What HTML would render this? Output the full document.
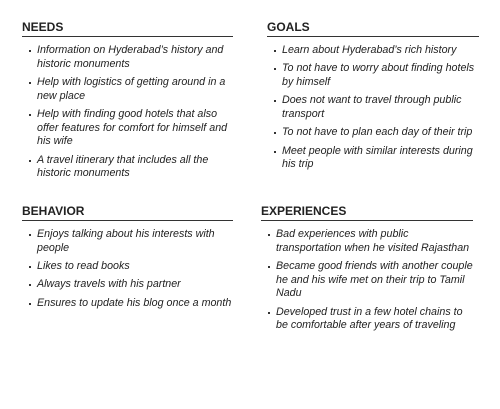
<!DOCTYPE html>
<html><head><meta charset="utf-8"><style>
body{margin:0;width:500px;height:409px;background:#fff;position:relative;overflow:hidden;font-family:"Liberation Sans",sans-serif;color:#222}
.b{position:absolute;width:212px}
.h{font-weight:bold;font-size:12px;height:15px;line-height:15px;border-bottom:1.5px solid #333;padding-bottom:1px}
ul{list-style:none;margin:0;padding:0}
li{position:relative;font-style:italic;font-size:10.7px;line-height:13.6px;margin-top:4.8px;padding-left:15px;white-space:nowrap}
li:before{content:"";position:absolute;left:7px;top:6px;width:2px;height:2px;background:#333}
ul{margin-top:7px}
</style></head><body>
<div class="b" style="left:22px;top:20px;width:211px">
<div class="h">NEEDS</div>
<ul>
<li>Information on Hyderabad’s history and<br>historic monuments</li>
<li>Help with logistics of getting around in a<br>new place</li>
<li>Help with finding good hotels that also<br>offer features for comfort for himself and<br>his wife</li>
<li>A travel itinerary that includes all the<br>historic monuments</li>
</ul></div>
<div class="b" style="left:267px;top:20px;width:212px">
<div class="h">GOALS</div>
<ul>
<li>Learn about Hyderabad’s rich history</li>
<li>To not have to worry about finding hotels<br>by himself</li>
<li>Does not want to travel through public<br>transport</li>
<li>To not have to plan each day of their trip</li>
<li>Meet people with similar interests during<br>his trip</li>
</ul></div>
<div class="b" style="left:22px;top:204px;width:211px">
<div class="h">BEHAVIOR</div>
<ul>
<li>Enjoys talking about his interests with<br>people</li>
<li>Likes to read books</li>
<li>Always travels with his partner</li>
<li>Ensures to update his blog once a month</li>
</ul></div>
<div class="b" style="left:261px;top:204px;width:212px">
<div class="h">EXPERIENCES</div>
<ul>
<li>Bad experiences with public<br>transportation when he visited Rajasthan</li>
<li>Became good friends with another couple<br>he and his wife met on their trip to Tamil<br>Nadu</li>
<li>Developed trust in a few hotel chains to<br>be comfortable after years of traveling</li>
</ul></div>
</body></html>
